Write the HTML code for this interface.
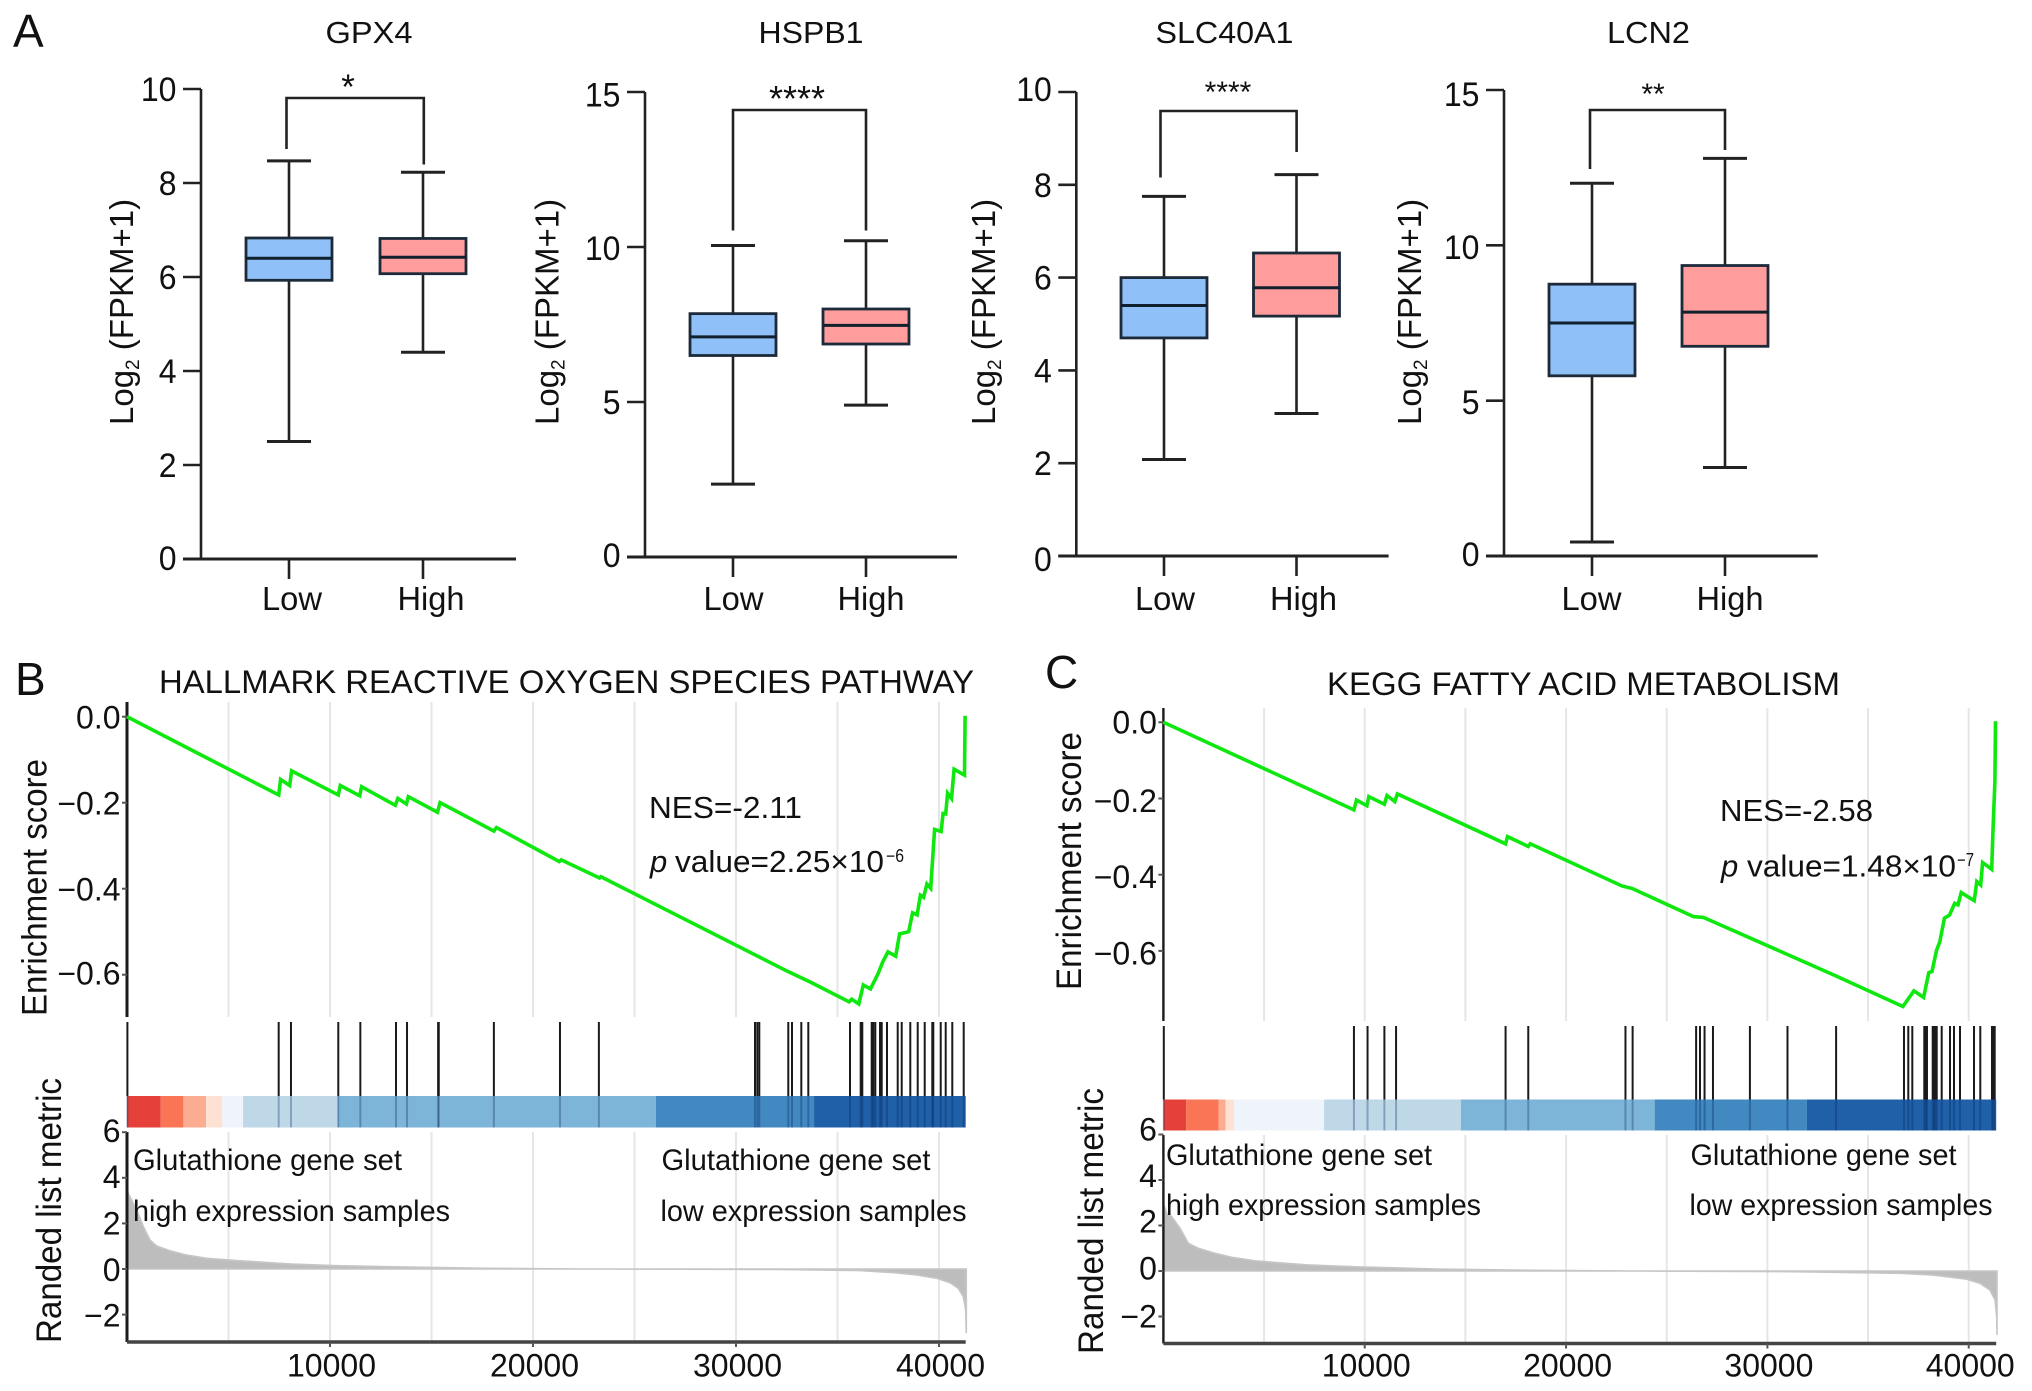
<!DOCTYPE html>
<html lang="en">
<head>
<meta charset="utf-8">
<title>Box plots and GSEA enrichment plots</title>
<style>
html,body{margin:0;padding:0;background:#fff;}
svg{display:block;}
text{font-family:"Liberation Sans",Arial,sans-serif;fill:#111;}
.ttl{font-size:31px;}
.yl{font-size:33px;}
.big{font-size:46px;}
.g{font-size:30px;}
.ann{font-size:31px;}
</style>
</head>
<body>
<svg id="figure" xmlns="http://www.w3.org/2000/svg" width="2032" height="1391" viewBox="0 0 2032 1391">
<rect x="0" y="0" width="2032" height="1391" fill="#fff"/>

<text class="big" x="13" y="47">A</text>
<text class="big" x="15" y="695">B</text>
<text class="big" x="1045" y="688">C</text>

<text class="ttl" x="369" y="43" text-anchor="middle" textLength="87" lengthAdjust="spacingAndGlyphs">GPX4</text>
<text class="ttl" x="811" y="43" text-anchor="middle" textLength="105" lengthAdjust="spacingAndGlyphs">HSPB1</text>
<text class="ttl" x="1224.5" y="43" text-anchor="middle" textLength="138" lengthAdjust="spacingAndGlyphs">SLC40A1</text>
<text class="ttl" x="1648.5" y="43" text-anchor="middle" textLength="83" lengthAdjust="spacingAndGlyphs">LCN2</text>

<text class="yl" transform="translate(133,425) rotate(-90)">Log<tspan font-size="19" dy="6">2</tspan><tspan dy="-6"> (FPKM+1)</tspan></text>
<text class="yl" transform="translate(558.5,425) rotate(-90)">Log<tspan font-size="19" dy="6">2</tspan><tspan dy="-6"> (FPKM+1)</tspan></text>
<text class="yl" transform="translate(995,425) rotate(-90)">Log<tspan font-size="19" dy="6">2</tspan><tspan dy="-6"> (FPKM+1)</tspan></text>
<text class="yl" transform="translate(1421,425) rotate(-90)">Log<tspan font-size="19" dy="6">2</tspan><tspan dy="-6"> (FPKM+1)</tspan></text>

<text font-size="32" x="159" y="693" textLength="815" lengthAdjust="spacingAndGlyphs">HALLMARK REACTIVE OXYGEN SPECIES PATHWAY</text>
<text font-size="32" x="1327" y="695" textLength="513" lengthAdjust="spacingAndGlyphs">KEGG FATTY ACID METABOLISM</text>

<text font-size="35" transform="translate(46.5,1016) rotate(-90)" textLength="257" lengthAdjust="spacingAndGlyphs">Enrichment score</text>
<text font-size="35" transform="translate(61,1343) rotate(-90)" textLength="265" lengthAdjust="spacingAndGlyphs">Randed list metric</text>
<text font-size="35" transform="translate(1081,990) rotate(-90)" textLength="258" lengthAdjust="spacingAndGlyphs">Enrichment score</text>
<text font-size="35" transform="translate(1103,1354) rotate(-90)" textLength="266" lengthAdjust="spacingAndGlyphs">Randed list metric</text>

<g id="plots"></g>

<g>
<text class="ann" x="649" y="818" textLength="153" lengthAdjust="spacingAndGlyphs">NES=-2.11</text>
<text class="ann" x="650" y="872" font-style="italic">p</text>
<text class="ann" x="675" y="872" textLength="209" lengthAdjust="spacingAndGlyphs">value=2.25×10</text>
<text font-size="18" x="886" y="862" textLength="18" lengthAdjust="spacingAndGlyphs">−6</text>
<text class="g" x="133" y="1170" textLength="269" lengthAdjust="spacingAndGlyphs">Glutathione gene set</text>
<text class="g" x="133" y="1221" textLength="317" lengthAdjust="spacingAndGlyphs">high expression samples</text>
<text class="g" x="661.5" y="1170" textLength="269" lengthAdjust="spacingAndGlyphs">Glutathione gene set</text>
<text class="g" x="660.5" y="1221" textLength="306" lengthAdjust="spacingAndGlyphs">low expression samples</text>
</g>
<g>
<text class="ann" x="1720" y="821" textLength="153" lengthAdjust="spacingAndGlyphs">NES=-2.58</text>
<text class="ann" x="1721" y="876.5" font-style="italic">p</text>
<text class="ann" x="1747" y="876.5" textLength="209" lengthAdjust="spacingAndGlyphs">value=1.48×10</text>
<text font-size="18" x="1957" y="866" textLength="17" lengthAdjust="spacingAndGlyphs">−7</text>
<text class="g" x="1166" y="1165" textLength="266" lengthAdjust="spacingAndGlyphs">Glutathione gene set</text>
<text class="g" x="1166" y="1215" textLength="315" lengthAdjust="spacingAndGlyphs">high expression samples</text>
<text class="g" x="1690.5" y="1165" textLength="266" lengthAdjust="spacingAndGlyphs">Glutathione gene set</text>
<text class="g" x="1689.5" y="1215" textLength="303" lengthAdjust="spacingAndGlyphs">low expression samples</text>
</g>
</svg>

<script>
// ---------- Box plot data: [whisker low, Q1, median, Q3, whisker high] ----------
var categories = ['Low', 'High'];
var gpx4Low = [2.5, 5.93, 6.4, 6.83, 8.47];
var gpx4High = [4.4, 6.07, 6.42, 6.82, 8.23];
var hspb1Low = [2.35, 6.5, 7.1, 7.85, 10.05];
var hspb1High = [4.9, 6.87, 7.47, 8.0, 10.2];
var slc40a1Low = [2.08, 4.7, 5.4, 6.0, 7.75];
var slc40a1High = [3.07, 5.17, 5.78, 6.53, 8.22];
var lcn2Low = [0.45, 5.8, 7.5, 8.75, 12.0];
var lcn2High = [2.85, 6.75, 7.85, 9.35, 12.8];
var ticksTen = [0, 2, 4, 6, 8, 10];
var ticksFifteen = [0, 5, 10, 15];

// ---------- GSEA data ----------
var xTicks = [10000, 20000, 30000, 40000];
var gridRanks = [5000, 10000, 15000, 20000, 25000, 30000, 35000, 40000];
var esTicks = [0, -0.2, -0.4, -0.6];
var esTickLabels = ['0.0', '−0.2', '−0.4', '−0.6'];
var metricTicks = [6, 4, 2, 0, -2];
var metricTickLabels = ['6', '4', '2', '0', '−2'];
var heatColors = ['#e5403a', '#fa7556', '#fcac90', '#fde2d4', '#eff3fb', '#bfd8e8', '#7db5d9', '#4289c2', '#2060a8'];

var esRanksB = [0, 7472, 7567, 8014, 8110, 10409, 10505, 11463, 11559, 13219, 13347, 13762, 13858, 15295, 15422, 18073, 18200, 21297, 21393, 23277, 23341, 32537, 33655, 35570, 35698, 36049, 36273, 36624, 37007, 37231, 37486, 37869, 38061, 38508, 38699, 38923, 39082, 39242, 39402, 39593, 39785, 40104, 40200, 40328, 40424, 40616, 40743, 41254, 41286];
var esValuesB = [0, -0.182, -0.146, -0.160, -0.126, -0.182, -0.160, -0.184, -0.163, -0.206, -0.190, -0.203, -0.186, -0.222, -0.200, -0.266, -0.258, -0.337, -0.333, -0.375, -0.372, -0.592, -0.617, -0.663, -0.657, -0.668, -0.624, -0.633, -0.597, -0.570, -0.547, -0.557, -0.505, -0.500, -0.456, -0.461, -0.415, -0.420, -0.389, -0.399, -0.262, -0.267, -0.225, -0.226, -0.178, -0.190, -0.122, -0.136, 0.002];
var hitsB = [20, 7472, 8078, 10409, 11495, 13251, 13794, 15326, 15358, 18073, 21329, 23245, 30936, 31049, 31148, 32576, 32759, 33217, 33562, 35616, 36143, 36222, 36685, 36764, 36862, 37094, 37177, 37438, 37966, 38163, 38586, 38951, 39296, 39670, 39719, 40084, 40330, 40655, 41217];
var heatEdgesB = [0, 1660, 2778, 3896, 4694, 5716, 10377, 26054, 33845, 41315];
var metricRanksB = [0, 64, 478, 803, 1133, 1463, 2118, 2941, 3926, 5567, 8110, 10345, 13538, 17689, 22479, 32058, 36108, 37749, 38901, 39887, 40542, 40951, 41197, 41315, 41345];
var metricValuesB = [3.6, 3.32, 2.59, 1.86, 1.27, 1.01, 0.80, 0.61, 0.47, 0.36, 0.22, 0.146, 0.09, 0.03, 0.0, -0.02, -0.07, -0.16, -0.26, -0.41, -0.6, -0.85, -1.21, -1.8, -2.81];

var esRanksC = [0, 9464, 9593, 10108, 10204, 10977, 11106, 11492, 11621, 16996, 17092, 18123, 18220, 22791, 23274, 26331, 26815, 27297, 33413, 36729, 37277, 37760, 38017, 38178, 38403, 38564, 38790, 39047, 39305, 39466, 39627, 40271, 40400, 40593, 40689, 41140, 41204, 41300, 41332];
var esValuesC = [0, -0.230, -0.204, -0.219, -0.195, -0.215, -0.192, -0.208, -0.188, -0.319, -0.300, -0.326, -0.319, -0.430, -0.436, -0.510, -0.512, -0.523, -0.666, -0.746, -0.705, -0.722, -0.657, -0.654, -0.598, -0.576, -0.514, -0.506, -0.475, -0.479, -0.447, -0.468, -0.418, -0.427, -0.368, -0.386, -0.283, -0.156, 0.003];
var hitsC = [20, 9464, 10140, 10977, 11556, 16996, 18123, 22951, 23306, 26460, 26653, 26879, 27297, 29132, 30999, 33413, 36785, 36999, 37198, 37793, 37863, 37927, 38211, 38276, 38340, 38410, 38658, 39070, 39269, 39567, 40262, 40575, 41156, 41220, 41290];
var heatEdgesC = [0, 1127, 2736, 3090, 3509, 7983, 14775, 24400, 31965, 41365];
var metricRanksC = [0, 64, 164, 412, 825, 1237, 1733, 2563, 3392, 4550, 5543, 7178, 9754, 13616, 18445, 23274, 31321, 36588, 38242, 39901, 40561, 41058, 41306, 41390, 41405];
var metricValuesC = [2.95, 2.81, 2.54, 2.39, 1.88, 1.22, 1.0, 0.78, 0.6, 0.45, 0.38, 0.27, 0.18, 0.09, 0.03, 0, -0.03, -0.1, -0.18, -0.36, -0.54, -0.84, -1.27, -2.0, -2.81];

// ---------- Helpers ----------
var NS = 'http://www.w3.org/2000/svg';
var root = document.getElementById('plots');
function mk(tag, props, parent) {
  var node = document.createElementNS(NS, tag);
  for (var k in props) { node.setAttribute(k, props[k]); }
  (parent || root).appendChild(node);
  return node;
}
function seg(parent, x1, y1, x2, y2, color, width) {
  return mk('line', {x1: x1, y1: y1, x2: x2, y2: y2, stroke: color, 'stroke-width': width}, parent);
}

// ---------- Box plots ----------
function drawBoxPlot(name, layout, lowStats, highStats, ticks) {
  var g = mk('g', {});
  
  
  var y = function (v) { return layout.y0 - v * (layout.y0 - layout.yTop) / layout.max; };
  var dark = '#222';

  var yAxis = seg(g, layout.axisX, y(layout.max), layout.axisX, layout.y0, dark, 2.6);
  
  
  var xAxis = seg(g, layout.axisX - 18, layout.y0, layout.xEnd, layout.y0, dark, 3);
  
  

  ticks.forEach(function (t, i) {
    var tick = seg(g, layout.axisX - 18, y(t), layout.axisX, y(t), dark, 2.6);
    
    
    var s = String(t);
    var lab = mk('text', {x: layout.axisX - 24.5, y: y(t) + 12 + layout.nudge[i], 'text-anchor': 'end', 'font-size': 34, textLength: s.length * 17.8, lengthAdjust: 'spacingAndGlyphs'}, g);
    lab.textContent = s;
    
    
  });

  [lowStats, highStats].forEach(function (s, i) {
    var cx = layout.cats[i];
    var colors = ['#90c0f8', '#ff9c9c'];
    var tk = seg(g, cx, layout.y0, cx, layout.y0 + 20, dark, 2.6);
    
    
    var lab = mk('text', {x: layout.labs[i], y: 610, 'text-anchor': 'middle', 'font-size': 33, textLength: i ? 67 : 60, lengthAdjust: 'spacingAndGlyphs'}, g);
    lab.textContent = categories[i];
    
    

    var w = seg(g, cx, y(s[0]), cx, y(s[4]), dark, 2.6);
    
    
    var c1 = seg(g, cx - 22, y(s[0]), cx + 22, y(s[0]), dark, 3);
    
    
    var c2 = seg(g, cx - 22, y(s[4]), cx + 22, y(s[4]), dark, 3);
    
    
    var b = mk('rect', {x: cx - 43, y: y(s[3]), width: 86, height: y(s[1]) - y(s[3]), fill: colors[i], stroke: '#1c2a3a', 'stroke-width': 2.8}, g);
    
    
    var m = seg(g, cx - 43, y(s[2]), cx + 43, y(s[2]), '#10202c', 3);
    
    
  });

  var br = mk('polyline', {points: [layout.brL, layout.brLy, layout.brL, layout.brY, layout.brR, layout.brY, layout.brR, layout.brRy].join(' '), fill: 'none', stroke: dark, 'stroke-width': 2.6}, g);
  
  
  var st = mk('text', {x: layout.starX, y: layout.starY, 'text-anchor': 'middle', 'font-size': layout.starSize}, g);
  st.textContent = layout.stars;
  
  
}

drawBoxPlot('boxplot-gpx4', {axisX: 201, xEnd: 516, y0: 559, yTop: 89, max: 10, cats: [289, 423], labs: [292, 431], brL: 286.5, brR: 423.8, brY: 98, brLy: 149, brRy: 164.5, starX: 348, starY: 99, starSize: 35, stars: '*', nudge: [-1, 0, 0, 0, 0, 0]}, gpx4Low, gpx4High, ticksTen);
drawBoxPlot('boxplot-hspb1', {axisX: 645, xEnd: 957, y0: 557, yTop: 92, max: 15, cats: [733, 866], labs: [733.5, 871], brL: 733, brR: 866, brY: 110, brLy: 230.5, brRy: 230.5, starX: 797, starY: 111, starSize: 36, stars: '****', nudge: [-2, 0, 1, 2.5]}, hspb1Low, hspb1High, ticksFifteen);
drawBoxPlot('boxplot-slc40a1', {axisX: 1076.3, xEnd: 1388.6, y0: 556, yTop: 92, max: 10, cats: [1164, 1296.5], labs: [1165, 1303.5], brL: 1160.5, brR: 1296.6, brY: 111, brLy: 177.5, brRy: 152, starX: 1228, starY: 102, starSize: 30, stars: '****', nudge: [3, 0, 0, 0, 0, -3]}, slc40a1Low, slc40a1High, ticksTen);
drawBoxPlot('boxplot-lcn2', {axisX: 1504, xEnd: 1817.7, y0: 556, yTop: 90, max: 15, cats: [1592, 1725], labs: [1591.5, 1730], brL: 1590, brR: 1725, brY: 110, brLy: 169, brRy: 150, starX: 1653, starY: 104, starSize: 30, stars: '**', nudge: [-2, 1.5, 1.5, 4]}, lcn2Low, lcn2High, ticksFifteen);

// ---------- GSEA plots ----------
function drawGsea(name, L, esRanks, esValues, hits, heatEdges, metricRanks, metricValues) {
  var g = mk('g', {});
  
  
  var x = function (r) { return L.x0 + r * L.xs; };
  var yEs = function (v) { return L.es0 - v * L.esScale; };
  var yM = function (v) { return L.m0 - v * L.mScale; };

  gridRanks.forEach(function (r) {
    var g1 = seg(g, x(r), L.esTop, x(r), L.esBottom, '#e6e6e6', 2);
    
    
    var g2 = seg(g, x(r), L.mTop, x(r), L.mBottom, '#e6e6e6', 2);
    
    
  });

  var ax1 = seg(g, L.x0, L.esTop, L.x0, L.esBottom, '#1a1a1a', L.axisW);
  
  
  esTicks.forEach(function (t, i) {
    var tk = seg(g, L.x0 - 5, yEs(t), L.x0, yEs(t), '#555', 2);
    
    
    var lab = mk('text', {x: L.x0 - 6.5, y: yEs(t) + 11 + L.esNudge[i], 'text-anchor': 'end', 'font-size': 32}, g);
    lab.textContent = esTickLabels[i];
    
    
  });

  heatColors.forEach(function (c, i) {
    var r = mk('rect', {x: x(heatEdges[i]), y: L.heatTop, width: x(heatEdges[i + 1]) - x(heatEdges[i]), height: L.heatBottom - L.heatTop, fill: c}, g);
    
    
  });

  hits.forEach(function (r) {
    var h = seg(g, x(r), L.hitTop, x(r), L.heatTop, '#1a1a1a', 2);
    
    
    var o = seg(g, x(r), L.heatTop, x(r), L.heatBottom, 'rgba(0,30,90,0.3)', 2);
    
    
  });

  var d = esRanks.map(function (r, i) { return (i ? 'L' : 'M') + x(r).toFixed(1) + ' ' + yEs(esValues[i]).toFixed(1); }).join('');
  var curve = mk('path', {d: d, fill: 'none', stroke: '#0ee80e', 'stroke-width': 3.6, 'stroke-linejoin': 'miter'}, g);
  
  

  var a = 'M' + x(metricRanks[0]).toFixed(1) + ' ' + yM(0).toFixed(1);
  metricRanks.forEach(function (r, i) { a += 'L' + x(r).toFixed(1) + ' ' + yM(metricValues[i]).toFixed(1); });
  a += 'L' + x(metricRanks[metricRanks.length - 1]).toFixed(1) + ' ' + yM(0).toFixed(1) + 'Z';
  var area = mk('path', {d: a, fill: '#bdbdbd', stroke: '#c6c6c6', 'stroke-width': 1.6}, g);
  
  

  var ax2 = seg(g, L.x0, L.mTop, L.x0, L.mBottom, '#1a1a1a', L.axisW);
  
  
  var ax3 = seg(g, L.x0, L.mBottom, x(L.xEnd), L.mBottom, '#444', 3.5);
  
  

  metricTicks.forEach(function (t, i) {
    var tk = seg(g, L.x0 - 5, yM(t), L.x0, yM(t), '#555', 2);
    
    
    var lab = mk('text', {x: L.x0 - 6.5, y: yM(t) + 11 + L.mNudge[i], 'text-anchor': 'end', 'font-size': 32}, g);
    lab.textContent = metricTickLabels[i];
    
    
  });

  xTicks.forEach(function (t) {
    var tk = seg(g, x(t), L.mBottom, x(t), L.mBottom + 5, '#555', 2);
    
    
    var lab = mk('text', {x: x(t) + 1.5, y: 1376.7, 'text-anchor': 'middle', 'font-size': 32}, g);
    lab.textContent = String(t);
    
    
  });
}

drawGsea('gsea-hallmark-ros', {x0: 127, xs: 0.0203, xEnd: 41315, axisW: 3, es0: 716.7, esScale: 430, esTop: 702, esBottom: 1017, hitTop: 1022, heatTop: 1096, heatBottom: 1127.5, m0: 1269, mScale: 22.8, mTop: 1132, mBottom: 1342, esNudge: [1, 1, 1, -1], mNudge: [-1, -1, 0, 1, 1]}, esRanksB, esValuesB, hitsB, heatEdgesB, metricRanksB, metricValuesB);
drawGsea('gsea-kegg-fatty-acid', {x0: 1163.4, xs: 0.020133, xEnd: 41365, axisW: 2.4, es0: 722.3, esScale: 381, esTop: 708, esBottom: 1021, hitTop: 1026, heatTop: 1099.5, heatBottom: 1130.5, m0: 1271, mScale: 22.75, mTop: 1135, mBottom: 1343.5, esNudge: [0, 2.5, 2.5, 2.5], mNudge: [-5, -4, -4, -2.5, 0]}, esRanksC, esValuesC, hitsC, heatEdgesC, metricRanksC, metricValuesC);
</script>
</body>
</html>
